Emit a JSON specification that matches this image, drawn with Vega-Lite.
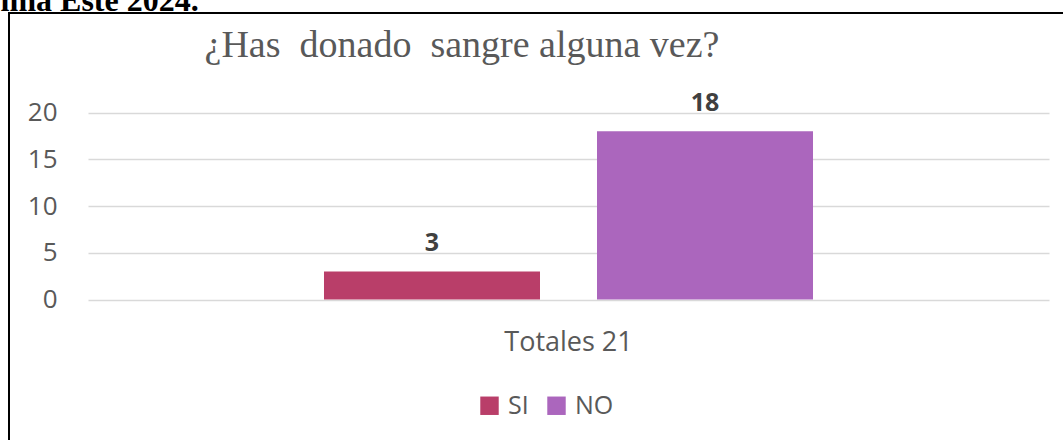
{
  "$schema": "https://vega.github.io/schema/vega-lite/v6.json",
  "width": 1064,
  "height": 442,
  "autosize": {"type": "none"},
  "padding": {"left": 9, "top": 13, "right": -10, "bottom": -15},
  "background": "white",
  "data": {
    "values": [
      {"grupo": "Totales 21", "respuesta": "SI", "valor": 3},
      {"grupo": "Totales 21", "respuesta": "NO", "valor": 18}
    ]
  },
  "encoding": {
    "x": {
      "field": "grupo",
      "type": "nominal",
      "scale": {"range": [79, 1040], "paddingInner": 0, "paddingOuter": 0.4826},
      "axis": {
        "orient": "bottom",
        "offset": -155.5,
        "domain": false,
        "ticks": false,
        "grid": false,
        "labelAngle": 0,
        "labelFont": "Open Sans",
        "labelFontSize": 27,
        "labelColor": "#595959",
        "labelBaseline": "alphabetic",
        "labelPadding": 51,
        "title": "¿Has\u00a0 donado\u00a0 sangre alguna vez?",
        "titleX": 452.5,
        "titleY": -243.5,
        "titleAngle": 0,
        "titleAlign": "center",
        "titleBaseline": "alphabetic",
        "titleFont": "Liberation Serif",
        "titleFontSize": 38,
        "titleFontWeight": "normal",
        "titleColor": "#595959"
      }
    },
    "xOffset": {
      "field": "respuesta",
      "type": "nominal",
      "sort": ["SI", "NO"],
      "scale": {"paddingInner": 0.2088, "paddingOuter": 0}
    },
    "y": {
      "field": "valor",
      "type": "quantitative",
      "scale": {"domain": [-16.63, 30.642], "nice": false},
      "axis": {
        "values": [0, 5, 10, 15, 20],
        "domain": false,
        "ticks": false,
        "grid": true,
        "gridColor": "#D9D9D9",
        "gridWidth": 1.5,
        "labelAlign": "right",
        "labelBaseline": "middle",
        "labelPadding": -48,
        "labelFont": "Open Sans",
        "labelFontSize": 26,
        "labelColor": "#595959",
        "title": "ima Este 2024.",
        "titleX": -9,
        "titleY": -3,
        "titleAngle": 0,
        "titleAlign": "left",
        "titleBaseline": "alphabetic",
        "titleFont": "Liberation Serif",
        "titleFontSize": 32,
        "titleFontWeight": "bold",
        "titleColor": "black"
      }
    }
  },
  "layer": [
    {
      "mark": {"type": "bar"},
      "encoding": {
        "color": {
          "field": "respuesta",
          "type": "nominal",
          "scale": {"domain": ["SI", "NO"], "range": ["#B93E69", "#AB66BD"]},
          "legend": {
            "orient": "none",
            "legendX": 468,
            "legendY": 380,
            "direction": "horizontal",
            "title": null,
            "symbolType": "square",
            "symbolSize": 340,
            "symbolStrokeWidth": 0,
            "labelFont": "Open Sans",
            "labelFontSize": 25,
            "labelColor": "#595959",
            "labelOffset": 6,
            "columnPadding": 15,
            "padding": 0
          }
        }
      }
    },
    {
      "mark": {
        "type": "text",
        "dy": -20,
        "baseline": "alphabetic",
        "font": "Open Sans",
        "fontSize": 25,
        "fontWeight": "bold",
        "color": "#404040"
      },
      "encoding": {
        "text": {"field": "valor", "type": "quantitative"}
      }
    }
  ],
  "config": {
    "view": {"stroke": "black", "strokeWidth": 2}
  }
}
